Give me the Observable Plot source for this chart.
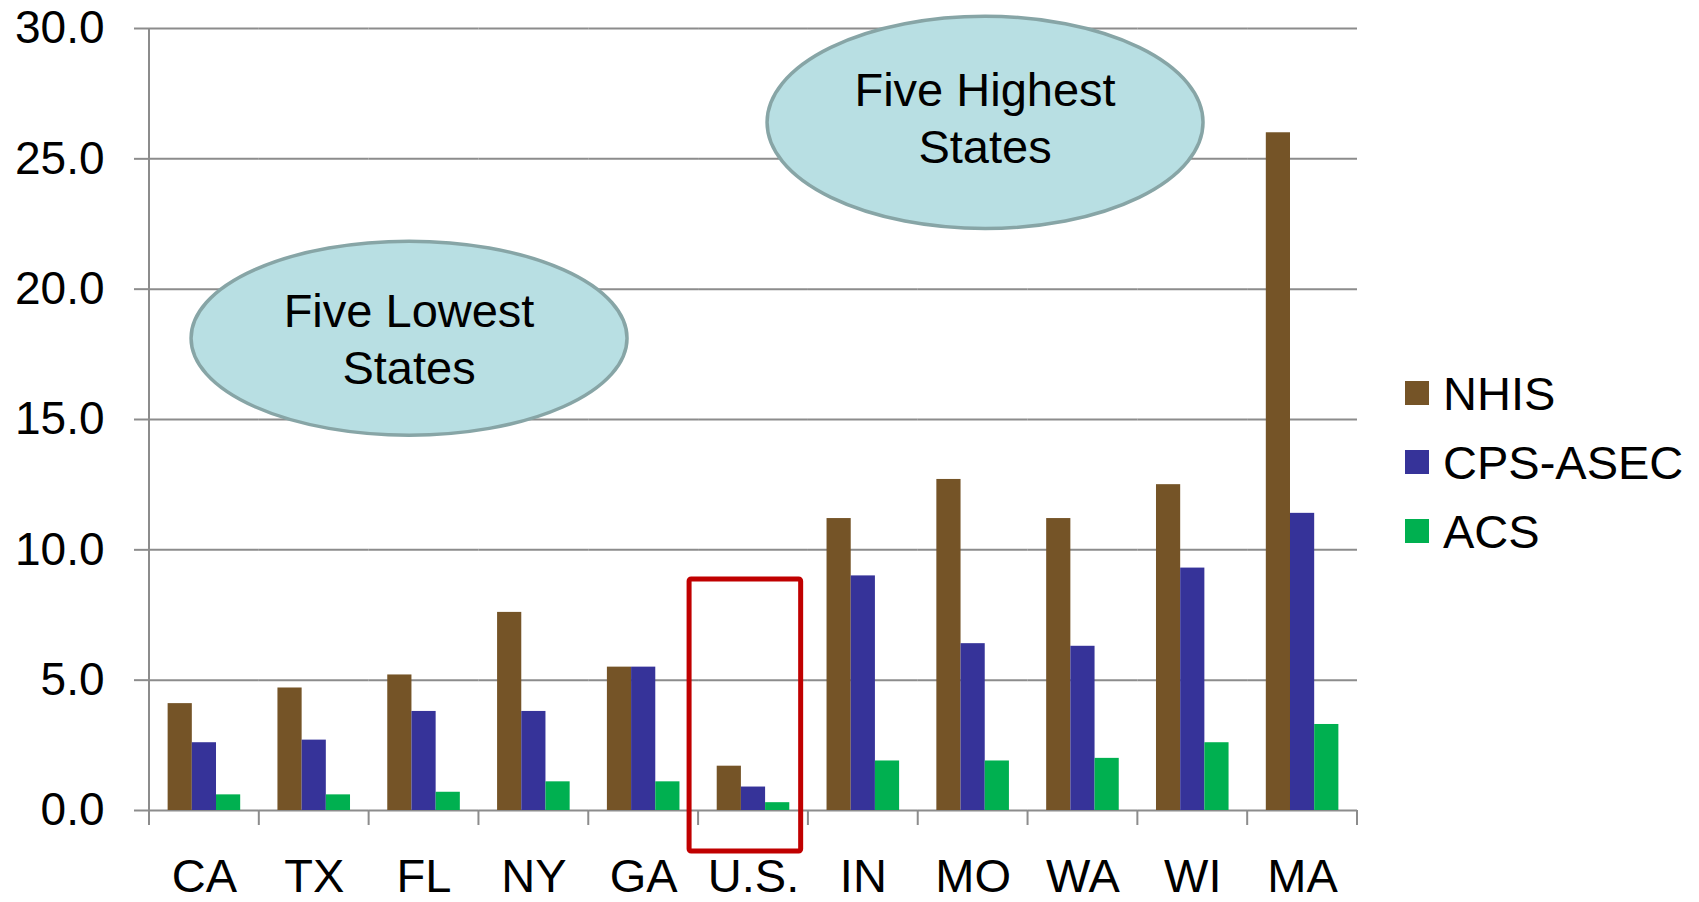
<!DOCTYPE html>
<html>
<head>
<meta charset="utf-8">
<script src="https://cdn.jsdelivr.net/npm/d3@7"></script>
<script src="https://cdn.jsdelivr.net/npm/@observablehq/plot@0.6"></script>
<style>
  html, body { margin: 0; padding: 0; background: #ffffff; }
  #wrap { position: relative; width: 1699px; height: 902px; font-family: "Liberation Sans", Arial, sans-serif; }
  #legend { position: absolute; left: 1405px; top: 358.5px; }
  .row { display: flex; align-items: center; height: 69px; }
  .sw { width: 24px; height: 24px; margin-right: 14px; }
  .lab { font-size: 47px; line-height: 1; color: #000; white-space: nowrap; }
</style>
</head>
<body>
<div id="wrap"><div id="legend"></div></div>
<script>
// ---- data ----
const states = ["CA", "TX", "FL", "NY", "GA", "U.S.", "IN", "MO", "WA", "WI", "MA"];
const seriesNames = ["NHIS", "CPS-ASEC", "ACS"];
const nhis = [4.1, 4.7, 5.2, 7.6, 5.5, 1.7, 11.2, 12.7, 11.2, 12.5, 26.0];
const cpsAsec = [2.6, 2.7, 3.8, 3.8, 5.5, 0.9, 9.0, 6.4, 6.3, 9.3, 11.4];
const acs = [0.6, 0.6, 0.7, 1.1, 1.1, 0.3, 1.9, 1.9, 2.0, 2.6, 3.3];
const yTicks = [0, 5, 10, 15, 20, 25, 30];
const seriesColors = ["#755427", "#363399", "#00b050"];

const seriesValues = [nhis, cpsAsec, acs];
const rows = [];
states.forEach((s, i) => seriesNames.forEach((n, j) => rows.push({state: s, series: n, value: seriesValues[j][i]})));

const gridColor = "#8c8c8c";

const chart = Plot.plot({
  width: 1699,
  height: 902,
  marginLeft: 149,
  marginRight: 342,
  marginTop: 28,
  marginBottom: 92,
  style: {fontFamily: "'Liberation Sans', Arial, sans-serif", background: "transparent", overflow: "visible"},
  fx: {domain: states, padding: 0, round: false, label: null},
  x: {domain: seriesNames, paddingInner: 0, paddingOuter: 0.77, round: false, axis: null},
  y: {domain: [0, 30], axis: null},
  color: {domain: seriesNames, range: seriesColors},
  marks: [
    Plot.ruleY(yTicks, {stroke: gridColor, strokeWidth: 2}),
    Plot.barY(rows, {fx: "state", x: "series", y: "value", fill: "series"}),
    Plot.axisY(yTicks, {tickFormat: d => d.toFixed(1), tickSize: 15, tickPadding: 30, fontSize: 46, stroke: gridColor, strokeWidth: 2, fill: "#000", label: null}),
    Plot.axisFx({anchor: "bottom", tickSize: 0, tickPadding: 48, fontSize: 47, fill: "#000", label: null})
  ]
});

document.getElementById("wrap").prepend(chart);

// ---- axis lines, boundary ticks and annotations from the plot's scales ----
const fx = chart.scale("fx");
const ys = chart.scale("y");
const bw = fx.bandwidth;
const x0 = fx.apply(states[0]);
const x1 = fx.apply(states[states.length - 1]) + bw;
const yBase = ys.apply(0);
const yTop = ys.apply(30);
const svg = d3.select(chart);
const g = svg.append("g");

// vertical axis line
g.append("line").attr("x1", x0).attr("x2", x0).attr("y1", yTop).attr("y2", yBase + 15)
  .attr("stroke", gridColor).attr("stroke-width", 2);
// category boundary ticks
const bounds = states.map(s => fx.apply(s)).concat([x1]);
g.selectAll("line.bt").data(bounds).join("line").attr("class", "bt")
  .attr("x1", d => d).attr("x2", d => d).attr("y1", yBase).attr("y2", yBase + 15)
  .attr("stroke", gridColor).attr("stroke-width", 2);

// bubbles
const bubbles = [
  {state: "FL", frac: 0.368, value: 18.1, rxBands: 1.985, ryUnits: 3.72, textDy: 1, lines: ["Five Lowest", "States"]},
  {state: "MO", frac: 0.613, value: 26.38, rxBands: 1.985, ryUnits: 4.07, textDy: -5, lines: ["Five Highest", "States"]}
];
bubbles.forEach(b => {
  const cx = fx.apply(b.state) + b.frac * bw;
  const cy = ys.apply(b.value);
  const rx = b.rxBands * bw;
  const ry = yBase - ys.apply(b.ryUnits);
  g.append("ellipse").attr("cx", cx).attr("cy", cy).attr("rx", rx).attr("ry", ry)
    .attr("fill", "#b8dfe3").attr("stroke", "#87a5a6").attr("stroke-width", 3.5);
  const lh = 57;
  b.lines.forEach((t, i) => {
    g.append("text").attr("x", cx)
      .attr("y", cy + b.textDy + (i - (b.lines.length - 1) / 2) * lh + 16.8)
      .attr("text-anchor", "middle").attr("font-size", 47).attr("fill", "#000")
      .attr("font-family", "'Liberation Sans', Arial, sans-serif").text(t);
  });
});

// highlight box around U.S.
const us = fx.apply("U.S.");
g.append("rect")
  .attr("x", us - 0.082 * bw).attr("y", ys.apply(8.86))
  .attr("width", (0.934 + 0.082) * bw).attr("height", yBase + 41 - ys.apply(8.86))
  .attr("rx", 2).attr("fill", "none").attr("stroke", "#c00000").attr("stroke-width", 5);

// legend
const legend = document.getElementById("legend");
seriesNames.forEach((n, i) => {
  const row = document.createElement("div");
  row.className = "row";
  const sw = document.createElement("div");
  sw.className = "sw";
  sw.style.background = seriesColors[i];
  const lab = document.createElement("div");
  lab.className = "lab";
  lab.textContent = n;
  row.append(sw, lab);
  legend.append(row);
});
</script>
</body>
</html>
